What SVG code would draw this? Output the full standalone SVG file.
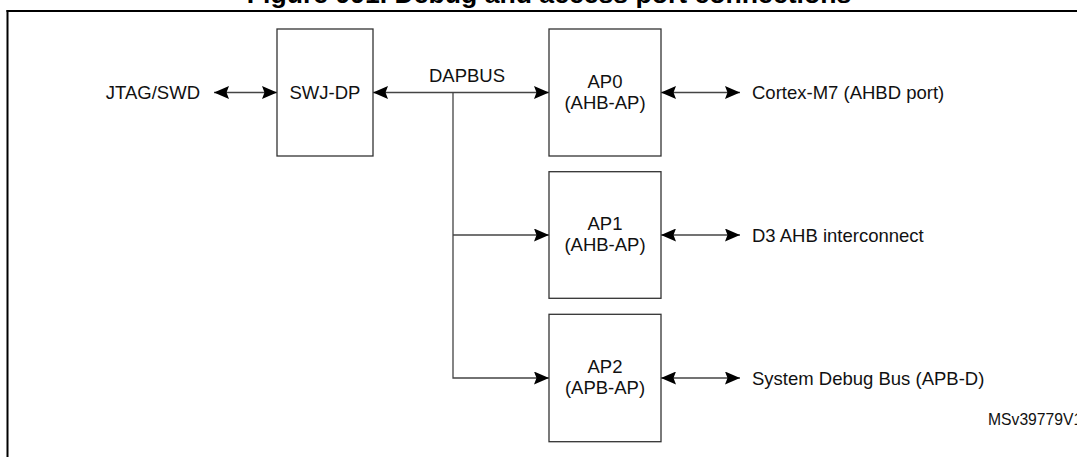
<svg xmlns="http://www.w3.org/2000/svg" width="1077" height="457" viewBox="0 0 1077 457">
<style>
.t{font-family:"Liberation Sans",Arial,sans-serif;font-size:18.5px;fill:#111}
.box{fill:#fff;stroke:#333;stroke-width:1.3}
.ln{stroke:#444;stroke-width:1.3;fill:none}
</style>
<defs>
<marker id="ah" viewBox="0 0 15 13" refX="15" refY="6.5" markerWidth="15" markerHeight="13" markerUnits="userSpaceOnUse" orient="auto-start-reverse">
<path d="M0,0 L15,6.5 L0,13 L2.5,6.5 Z" fill="#000"/>
</marker>
</defs>
<rect width="1077" height="457" fill="#fff"/>
<text x="549" y="3" text-anchor="middle" style="font-family:'Liberation Sans',Arial,sans-serif;font-size:26.6px;font-weight:bold" fill="#000">Figure 991. Debug and access port connections</text>
<g id="frame">
<line x1="6.5" y1="11" x2="1077" y2="11" stroke="#000" stroke-width="2"/>
<line x1="7.5" y1="10" x2="7.5" y2="457" stroke="#000" stroke-width="2"/>
</g>
<g id="connectors">
<line class="ln" x1="214" y1="92.5" x2="277" y2="92.5" marker-start="url(#ah)" marker-end="url(#ah)"/>
<line class="ln" x1="373" y1="92.5" x2="549" y2="92.5" marker-start="url(#ah)" marker-end="url(#ah)"/>
<polyline class="ln" points="453,92.5 453,378 549,378" marker-end="url(#ah)"/>
<line class="ln" x1="453" y1="235" x2="549" y2="235" marker-end="url(#ah)"/>
<line class="ln" x1="661" y1="92.5" x2="740" y2="92.5" marker-start="url(#ah)" marker-end="url(#ah)"/>
<line class="ln" x1="661" y1="235" x2="740" y2="235" marker-start="url(#ah)" marker-end="url(#ah)"/>
<line class="ln" x1="661" y1="378" x2="740" y2="378" marker-start="url(#ah)" marker-end="url(#ah)"/>
</g>
<g id="jtag"><text class="t" x="200" y="99" text-anchor="end">JTAG/SWD</text></g>
<g id="dapbus"><text class="t" x="467" y="82" text-anchor="middle">DAPBUS</text></g>
<g id="swjdp">
<rect class="box" x="277" y="29" width="96" height="127"/>
<text class="t" x="325" y="99" text-anchor="middle">SWJ-DP</text>
</g>
<g id="ap0">
<rect class="box" x="549" y="29" width="112" height="127"/>
<text class="t" x="605" y="87.5" text-anchor="middle">AP0</text>
<text class="t" x="605" y="108.5" text-anchor="middle">(AHB-AP)</text>
</g>
<g id="ap1">
<rect class="box" x="549" y="171.7" width="112" height="126.6"/>
<text class="t" x="605" y="230" text-anchor="middle">AP1</text>
<text class="t" x="605" y="251" text-anchor="middle">(AHB-AP)</text>
</g>
<g id="ap2">
<rect class="box" x="549" y="314.3" width="112" height="127.4"/>
<text class="t" x="605" y="373" text-anchor="middle">AP2</text>
<text class="t" x="605" y="394" text-anchor="middle">(APB-AP)</text>
</g>
<g id="cortex"><text class="t" x="752" y="99">Cortex-M7 (AHBD port)</text></g>
<g id="d3"><text class="t" x="752" y="241.5">D3 AHB interconnect</text></g>
<g id="sdb"><text class="t" x="752" y="384.5">System Debug Bus (APB-D)</text></g>
<text x="988" y="425" style="font-family:'Liberation Sans',Arial,sans-serif;font-size:15.7px" fill="#111">MSv39779V1</text>
</svg>
